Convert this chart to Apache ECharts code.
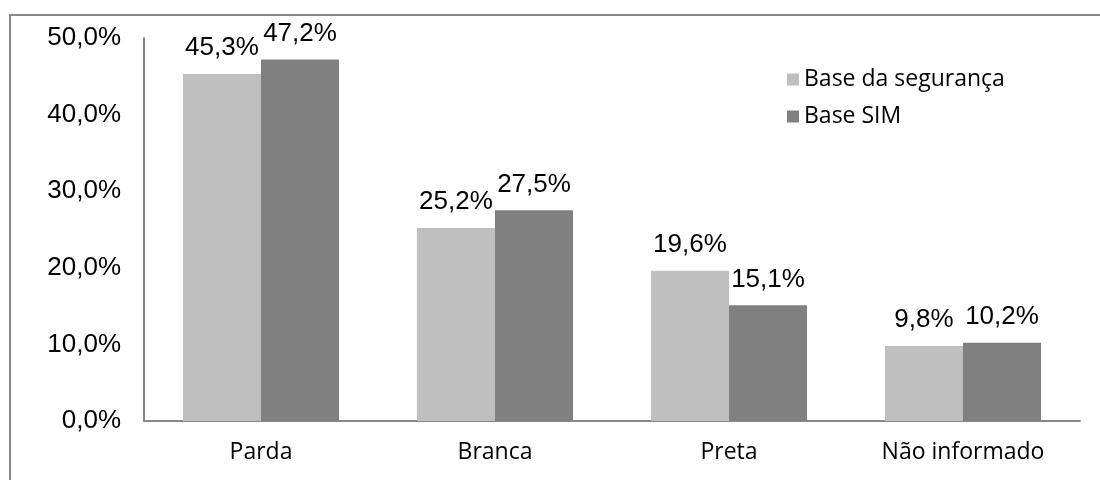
<!DOCTYPE html>
<html>
<head>
<meta charset="utf-8">
<title>Cor/raça</title>
<script src="https://cdn.jsdelivr.net/npm/echarts@6/dist/echarts.min.js"></script>
<style>
  html, body { margin: 0; padding: 0; background: #ffffff; }
  #chart { width: 1100px; height: 480px; }
</style>
</head>
<body>
<div id="chart"></div>
<script>
// Categories and values (percent)
const categories = ['Parda', 'Branca', 'Preta', 'Não informado'];
const seriesNames = ['Base da segurança', 'Base SIM'];
const baseSeguranca = [45.3, 25.2, 19.6, 9.8];
const baseSim = [47.2, 27.5, 15.1, 10.2];
const yTicks = [0, 10, 20, 30, 40, 50];

const fmtPct = v => v.toFixed(1).replace('.', ',') + '%';

const chart = echarts.init(document.getElementById('chart'), null, { renderer: 'canvas' });

const labelStyle = {
  show: true,
  position: 'top',
  distance: 13,
  fontFamily: '"Liberation Sans", Arial, sans-serif',
  fontSize: 26,
  color: '#000000',
  formatter: p => fmtPct(p.value)
};

chart.setOption({
  animation: false,
  backgroundColor: '#ffffff',
  graphic: [{
    type: 'rect',
    shape: { x: 10, y: 15, width: 1200, height: 600 },
    style: { fill: 'none', stroke: '#888888', lineWidth: 2 },
    silent: true,
    z: -1
  }],
  grid: { left: 144, right: 20, top: 38, bottom: 59, containLabel: false },
  legend: {
    orient: 'vertical',
    left: 787,
    top: 68,
    padding: 0,
    itemWidth: 12,
    itemHeight: 12,
    itemGap: 14,
    icon: 'rect',
    data: seriesNames,
    textStyle: {
      fontFamily: '"Open Sans", "Noto Sans", sans-serif',
      fontSize: 23,
      color: '#000000',
      padding: [0, 0, 0, 0]
    }
  },
  xAxis: {
    type: 'category',
    data: categories,
    axisLine: { show: true, lineStyle: { color: '#888888', width: 2 } },
    axisTick: { show: false },
    axisLabel: {
      margin: 20,
      fontFamily: '"Open Sans", "Noto Sans", sans-serif',
      fontSize: 23,
      color: '#000000'
    },
    splitLine: { show: false }
  },
  yAxis: {
    type: 'value',
    min: yTicks[0],
    max: yTicks[yTicks.length - 1],
    interval: yTicks[1] - yTicks[0],
    axisLine: { show: true, lineStyle: { color: '#888888', width: 2 } },
    axisTick: { show: false },
    splitLine: { show: false },
    axisLabel: {
      margin: 23,
      fontFamily: '"Liberation Sans", Arial, sans-serif',
      fontSize: 26,
      color: '#000000',
      formatter: v => fmtPct(v)
    }
  },
  series: [
    {
      name: seriesNames[0],
      type: 'bar',
      data: baseSeguranca,
      barGap: '0%',
      barCategoryGap: '33.3%',
      itemStyle: { color: '#bfbfbf' },
      label: labelStyle
    },
    {
      name: seriesNames[1],
      type: 'bar',
      data: baseSim,
      barGap: '0%',
      barCategoryGap: '33.3%',
      itemStyle: { color: '#808080' },
      label: labelStyle
    }
  ]
});
</script>
</body>
</html>
